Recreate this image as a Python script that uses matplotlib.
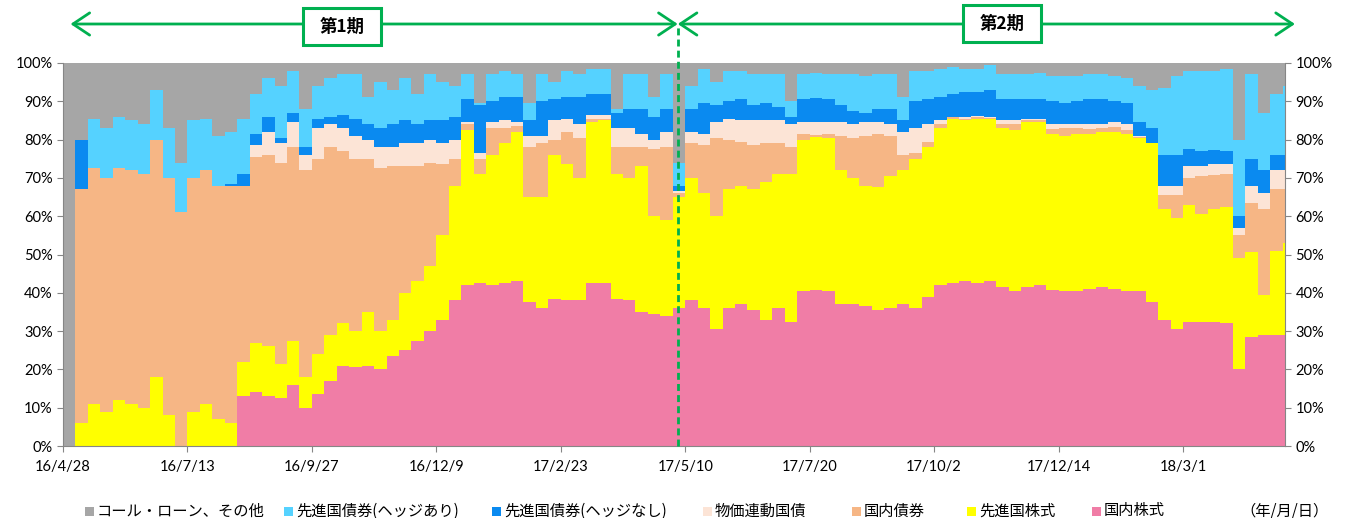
import matplotlib.pyplot as plt
import matplotlib.transforms as mtransforms
import numpy as np
from matplotlib.patches import Rectangle

plt.rcParams["font.family"] = ["Noto Sans CJK JP", "DejaVu Sans"]

# business-day index of each reading (one reading every 5 business days)
days = np.arange(0, 495, 5)
n_days = 491
tick_days = [0, 50, 100, 150, 200, 250, 300, 350, 400, 450]
tick_labels = ["16/4/28", "16/7/13", "16/9/27", "16/12/9", "17/2/23",
               "17/5/10", "17/7/20", "17/10/2", "17/12/14", "18/3/1"]
period_names = ["第1期", "第2期"]
period_split = 247
period_ends = [3, 495]

# cumulative top of each layer (%), bottom layer first
top_kokunai_kabu = [
    0, 0, 0, 0, 0, 0, 0, 0, 0, 0, 0, 0, 0, 0, 13, 14, 13, 12.5, 16, 10,
    13.5, 17, 21, 20.5, 21, 20, 23.5, 25, 27.5, 30, 33, 38, 42, 42.5, 42, 42.5, 43, 37.5, 36, 38.5,
    38, 38, 42.5, 42.5, 38.5, 38, 35, 34.5, 34, 36, 38, 36, 30.5, 36, 37, 35.5, 33, 36, 32.5, 40.5,
    40.7, 40.5, 37, 37, 36.5, 35.5, 36, 37, 36, 39, 42, 42.5, 43, 42.5, 43, 41.5, 40.5, 41.5, 42, 40.7,
    40.5, 40.5, 41, 41.5, 41, 40.5, 40.5, 37.5, 33, 30.5, 32.5, 32.5, 32.5, 32, 20, 28.5, 29, 29, 29,
]
top_senshin_kabu = [
    0, 6, 11, 9, 12, 11, 10, 18, 8, 0, 9, 11, 7, 6, 22, 27, 26, 21.5, 27.5, 18,
    24, 29, 32, 30, 35, 30, 33, 40, 43, 47, 55, 68, 82.5, 71, 76, 79, 82, 65, 65, 76,
    73.5, 70, 84.5, 85, 71, 70, 73, 60, 59, 65, 70, 66, 60, 67, 68, 67, 69, 71, 71, 80,
    80.8, 80.5, 72, 70, 68, 67.5, 70.5, 72, 75, 78, 83, 85.5, 85, 85.5, 85.5, 83, 82.5, 84.5, 84.5, 81.5,
    81, 81.5, 81.5, 82, 82, 81.5, 80.5, 79, 62, 59.5, 63, 60.5, 62, 62.5, 49, 50.7, 39.5, 51, 53,
]
top_kokunai_sai = [
    0, 67, 72.5, 70, 72.5, 72, 71, 80, 70, 61, 70, 72, 68, 68, 68, 75.5, 76, 74, 78, 72,
    75, 78, 77, 75, 75, 72.5, 73, 73, 73, 74, 73.5, 75, 84, 75, 83, 83, 83.5, 78, 79, 80,
    82, 80.5, 85.5, 85.5, 78, 78, 78, 77.5, 78, 66, 79, 78.5, 80.5, 80, 79.5, 78.5, 79, 79, 78, 81.5,
    81.3, 81.5, 81, 80.5, 81, 81.5, 81, 76, 76.5, 79.5, 84, 85.8, 85.5, 86, 85.7, 84, 84, 85, 85, 82.8,
    83, 83, 82.8, 83, 83.2, 82.5, 80.8, 79, 65.5, 65.5, 70, 70.5, 70.8, 71, 55, 63.5, 62, 67, 67,
]
top_bukka = [
    0, 67, 72.5, 70, 72.5, 72, 71, 80, 70, 61, 70, 72, 68, 68, 68, 78.5, 82, 79, 84.5, 76,
    83, 84, 83, 81, 80, 78, 78, 79, 79, 80, 79, 80, 84.5, 76.5, 84.5, 85, 84.5, 81, 81, 85,
    85.5, 84, 86.5, 86.5, 83, 83, 81.5, 80, 82, 66.5, 82, 81.5, 84.5, 85.5, 85, 85, 85, 85, 84, 84.5,
    84.7, 84.5, 84.5, 84, 84.5, 84.5, 84, 82, 83, 84, 85, 86, 86, 86.2, 86, 85, 85, 85.5, 85.5, 84,
    84.2, 84, 84, 84.2, 84.5, 84, 81, 79, 68, 67.8, 73, 73, 73.5, 73.5, 57, 68, 66, 72, 72,
]
top_hedge_nashi = [
    0, 80, 72.5, 70, 72.5, 72, 71, 80, 70, 61, 70, 72, 68, 68.5, 71, 81.5, 86, 80.5, 87, 78,
    85.5, 86, 86.5, 85.5, 84, 83, 84, 85, 84, 85, 85, 86, 90.5, 89, 90, 91, 91, 85, 90, 90.5,
    91, 91, 92, 92, 87, 88, 88, 86, 88, 68, 88, 89.5, 89, 90, 90.5, 89, 89.5, 88.5, 86, 90.5,
    90.8, 90.5, 89, 87.5, 87, 88, 88, 85, 90, 90.5, 91, 92, 92.5, 92.5, 93, 90.5, 90.5, 90.5, 90.5, 90,
    89.5, 90, 90.5, 90.5, 90, 89.5, 84.5, 83, 76, 76, 77.5, 77, 77.3, 77, 60, 75, 72, 76, 76,
]
top_hedge_ari = [
    0, 80, 85.5, 83, 86, 85, 84, 93, 83, 74, 85, 85.5, 81, 82, 85.5, 92, 96, 94, 98, 88,
    94, 96, 97, 97, 91, 95, 93, 96, 92, 97, 95, 94, 97, 89.5, 97, 98, 97, 89.5, 97, 95,
    98, 97, 98.5, 98.5, 88, 97, 97, 91, 97, 74, 94, 98.5, 95, 98, 98, 97, 97, 97, 90, 97,
    97.5, 97, 97, 97, 96.5, 97, 97, 91, 98, 98, 98.5, 99, 98.5, 98.5, 99.5, 97, 97, 97, 97.5, 96.5,
    96.5, 96.5, 97, 97, 96.5, 96, 94, 93, 93.5, 96.5, 98, 98, 98, 98.5, 80, 97, 87, 92, 94,
]

series_names = ["コール・ローン、その他", "先進国債券(ヘッジあり)", "先進国債券(ヘッジなし)",
                "物価連動国債", "国内債券", "先進国株式", "国内株式"]
series_colors = ["#A6A6A6", "#55D2FF", "#0A8AF0", "#FCE4D6", "#F6B685", "#FFFF00", "#F07DA6"]
legend_x_px = [85, 284, 492, 703, 852, 967, 1092]
green = "#00B050"

W, H = 1350, 518
fig = plt.figure(figsize=(W / 100, H / 100), dpi=100)
ax = fig.add_axes([63 / W, 1 - 446 / H, (1285 - 63) / W, (446 - 63) / H])

x_edges = np.append(days, days[-1] + 5)
levels = [np.zeros(len(days)), top_kokunai_kabu, top_senshin_kabu, top_kokunai_sai,
          top_bukka, top_hedge_nashi, top_hedge_ari, np.full(len(days), 100.0)]
levels = [np.append(np.asarray(lv, dtype=float), lv[-1]) for lv in levels]
fill_colors = series_colors[::-1]
for i in range(len(levels) - 1):
    ax.fill_between(x_edges, levels[i], levels[i + 1], step="post",
                    color=fill_colors[i], linewidth=0, antialiased=False)

ax.set_xlim(0, n_days)
ax.set_ylim(0, 100)
ax.set_xticks(tick_days)
ax.set_xticklabels(tick_labels, fontsize=10.5, family="Lato")
ax.set_yticks(range(0, 101, 10))
ax.set_yticklabels([f"{v}%" for v in range(0, 101, 10)], fontsize=10.5, family="Lato")
ax.tick_params(axis="y", right=True, labelright=True, length=4, color="#868686")
ax.tick_params(axis="x", length=4, color="#868686", pad=6)
for side in ["left", "right", "bottom"]:
    ax.spines[side].set_color("#868686")
ax.spines["top"].set_visible(False)

# period markers
y_arrow = 1 - 24 / H
data_fig = mtransforms.blended_transform_factory(ax.transData, fig.transFigure)
ax.plot([period_split, period_split], [1 - 446 / H, y_arrow], color=green, lw=2,
        ls=(0, (2.5, 1.5)), transform=data_fig, clip_on=False, zorder=5)
spans = [(period_ends[0], period_split), (period_split, period_ends[1])]
for a, b in spans:
    ax.annotate("", xy=(b, y_arrow), xytext=(a, y_arrow),
                xycoords=("data", "figure fraction"), textcoords=("data", "figure fraction"),
                arrowprops=dict(arrowstyle="<->,head_length=0.6,head_width=0.4",
                                color=green, lw=2, mutation_scale=20, shrinkA=0, shrinkB=0),
                annotation_clip=False)

box_w = 78 / W
box_h = 37 / H
for cx_px, cy_px, name in [(342, 26.5, period_names[0]), (1002, 23.5, period_names[1])]:
    cx, cy = cx_px / W, 1 - cy_px / H
    fig.patches.append(Rectangle((cx - box_w / 2, cy - box_h / 2), box_w, box_h,
                                 transform=fig.transFigure, facecolor="white",
                                 edgecolor=green, lw=2.2, zorder=10))
    fig.text(cx, cy, name, ha="center", va="center", fontsize=12.5,
             fontweight="bold", zorder=11)

# legend
y_leg = 1 - 511 / H
sq = 9
for x_px, name, color in zip(legend_x_px, series_names, series_colors):
    fig.patches.append(Rectangle((x_px / W, y_leg - sq / 2 / H), sq / W, sq / H,
                                 transform=fig.transFigure, facecolor=color,
                                 edgecolor="none"))
    fig.text((x_px + sq + 3) / W, y_leg, name, ha="left", va="center", fontsize=11)
fig.text(1240 / W, y_leg, "（年/月/日）", ha="left", va="center", fontsize=11)

fig.savefig("out.png", dpi=100)
